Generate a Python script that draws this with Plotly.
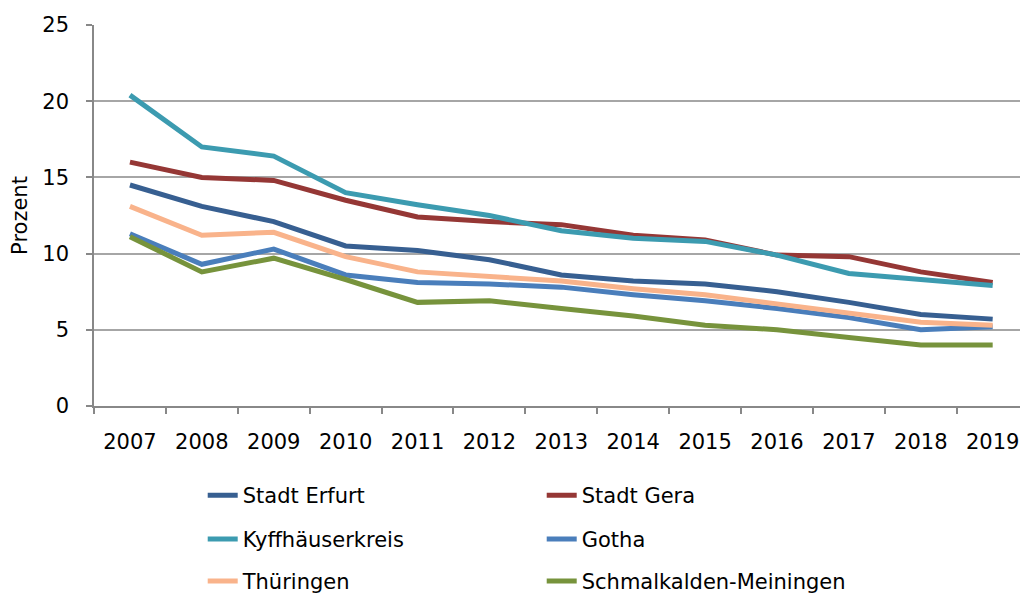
import plotly.graph_objects as go

years = ['2007', '2008', '2009', '2010', '2011', '2012', '2013',
         '2014', '2015', '2016', '2017', '2018', '2019']

erfurt = [14.5, 13.1, 12.1, 10.5, 10.2, 9.6, 8.6, 8.2, 8.0, 7.5, 6.8, 6.0, 5.7]
gera = [16.0, 15.0, 14.8, 13.5, 12.4, 12.1, 11.9, 11.2, 10.9, 9.9, 9.8, 8.8, 8.1]
kyffhaeuser = [20.4, 17.0, 16.4, 14.0, 13.2, 12.5, 11.5, 11.0, 10.8, 9.9, 8.7, 8.3, 7.9]
gotha = [11.3, 9.3, 10.3, 8.6, 8.1, 8.0, 7.8, 7.3, 6.9, 6.4, 5.8, 5.0, 5.2]
thueringen = [13.1, 11.2, 11.4, 9.8, 8.8, 8.5, 8.2, 7.7, 7.3, 6.7, 6.1, 5.5, 5.3]
schmalkalden = [11.1, 8.8, 9.7, 8.3, 6.8, 6.9, 6.4, 5.9, 5.3, 5.0, 4.5, 4.0, 4.0]

series = [
    ('Stadt Erfurt', erfurt, '#375F91', 'legend'),
    ('Stadt Gera', gera, '#953735', 'legend'),
    ('Kyffhäuserkreis', kyffhaeuser, '#3C9BB0', 'legend2'),
    ('Gotha', gotha, '#4A7EBB', 'legend2'),
    ('Thüringen', thueringen, '#F9B38B', 'legend3'),
    ('Schmalkalden-Meiningen', schmalkalden, '#77933C', 'legend3'),
]

FONT = 'DejaVu Sans'
FS = 21

fig = go.Figure()
for name, vals, color, leg in series:
    fig.add_trace(go.Scatter(
        x=years, y=vals, name=name, mode='lines',
        line=dict(color=color, width=5),
        legend=leg,
    ))

leg_common = dict(orientation='h', xanchor='left', yanchor='middle',
                  x=0.1174, entrywidth=294, entrywidthmode='pixels',
                  font=dict(family=FONT, size=FS, color='#000000'),
                  bgcolor='rgba(0,0,0,0)')

# page has an 8px body margin, so keep the figure small enough to avoid scrollbars
fig.update_layout(
    width=1012, height=590,
    margin=dict(l=86, r=0, t=17, b=192, autoexpand=False),
    paper_bgcolor='white', plot_bgcolor='white',
    font=dict(family=FONT, size=FS, color='#000000'),
    showlegend=True,
    legend=dict(y=-0.235, **leg_common),
    legend2=dict(y=-0.350, **leg_common),
    legend3=dict(y=-0.460, **leg_common),
    xaxis=dict(
        type='category', range=[-0.5, 12.38], showgrid=False, automargin=False,
        showline=True, linecolor='#888888', linewidth=1.5,
        ticks='outside', tickson='boundaries', ticklen=6,
        tickcolor='#888888', tickwidth=1.5,
        ticklabelstandoff=16,
        tickfont=dict(family=FONT, size=FS, color='#000000'),
    ),
    yaxis=dict(
        range=[0, 25], dtick=5, tick0=0, automargin=False,
        showgrid=True, gridcolor='#A6A6A6', gridwidth=1.5,
        showline=True, linecolor='#888888', linewidth=1.5,
        ticks='outside', ticklen=6, tickcolor='#888888', tickwidth=1.5,
        ticklabelstandoff=13, zeroline=False,
        tickfont=dict(family=FONT, size=FS, color='#000000'),
        title=dict(text='Prozent', standoff=9,
                   font=dict(family=FONT, size=FS, color='#000000')),
    ),
)

fig.write_html("out.html")
